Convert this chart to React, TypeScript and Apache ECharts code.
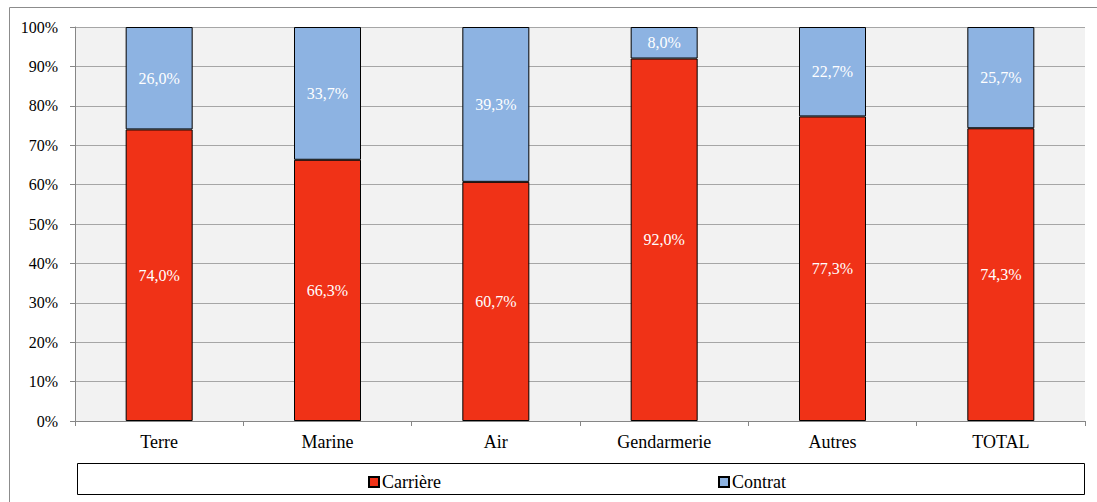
import React, { useEffect, useRef } from "react";
import * as echarts from "echarts";

const categories = ["Terre", "Marine", "Air", "Gendarmerie", "Autres", "TOTAL"];
const carriere = [74.0, 66.3, 60.7, 92.0, 77.3, 74.3];
const contrat = [26.0, 33.7, 39.3, 8.0, 22.7, 25.7];
const seriesNames = ["Carrière", "Contrat"];

const FONT = "Liberation Serif";
const fmt = (v: number) => v.toFixed(1).replace(".", ",") + "%";

export default function App() {
  const ref = useRef<HTMLDivElement>(null);
  useEffect(() => {
    const chart = echarts.init(ref.current!, null, { renderer: "svg" });
    const labelCfg = {
      show: true,
      position: "inside",
      color: "#ffffff",
      fontFamily: FONT,
      fontSize: 16,
      formatter: (p: any) => fmt(p.value),
    };
    const legendBase = {
      top: 473,
      padding: 0,
      itemWidth: 10,
      itemHeight: 10,
      icon: "rect",
      selectedMode: false,
      textStyle: { fontFamily: FONT, fontSize: 18, color: "#000", padding: [0, 0, 0, -2] },
    };
    chart.setOption({
      animation: false,
      textStyle: { fontFamily: FONT },
      grid: {
        left: 75,
        right: 12,
        top: 27,
        bottom: 81,
        show: true,
        backgroundColor: "#f2f2f2",
        borderWidth: 0,
      },
      legend: [
        { ...legendBase, data: [seriesNames[0]], left: 368 },
        { ...legendBase, data: [seriesNames[1]], left: 718 },
      ],
      xAxis: {
        type: "category",
        data: categories,
        axisLine: { lineStyle: { color: "#868686" } },
        axisTick: { show: true, interval: 0, length: 5, lineStyle: { color: "#868686" } },
        axisLabel: { color: "#000", fontFamily: FONT, fontSize: 18, margin: 12 },
      },
      yAxis: {
        type: "value",
        min: 0,
        max: 100,
        interval: 10,
        axisLine: { show: true, lineStyle: { color: "#868686" } },
        axisTick: { show: true, length: 5, lineStyle: { color: "#868686" } },
        axisLabel: {
          color: "#000",
          fontFamily: FONT,
          fontSize: 16,
          margin: 17,
          formatter: (v: number) => v + "%",
        },
        splitLine: { show: true, lineStyle: { color: "#a6a6a6", width: 1 } },
      },
      series: [
        {
          name: seriesNames[0],
          type: "bar",
          stack: "total",
          data: carriere,
          barWidth: 67,
          itemStyle: { color: "#f03217", borderColor: "#000", borderWidth: 1 },
          label: labelCfg,
        },
        {
          name: seriesNames[1],
          type: "bar",
          stack: "total",
          data: contrat,
          barWidth: 67,
          itemStyle: { color: "#8db3e2", borderColor: "#000", borderWidth: 1 },
          label: labelCfg,
        },
      ],
      graphic: [
        {
          type: "line",
          shape: { x1: 9.5, y1: 7.5, x2: 1097, y2: 7.5 },
          style: { stroke: "#8c8c8c", lineWidth: 1 },
          silent: true,
        },
        {
          type: "line",
          shape: { x1: 9.5, y1: 7.5, x2: 9.5, y2: 502 },
          style: { stroke: "#8c8c8c", lineWidth: 1 },
          silent: true,
        },
        {
          type: "rect",
          shape: { x: 77.5, y: 463.5, width: 1007, height: 31 },
          style: { fill: "none", stroke: "#000", lineWidth: 1 },
          silent: true,
          z: -1,
        },
      ],
    });
    return () => chart.dispose();
  }, []);
  return <div ref={ref} style={{ width: 1097, height: 502, position: "absolute", left: 0, top: 0 }} />;
}
